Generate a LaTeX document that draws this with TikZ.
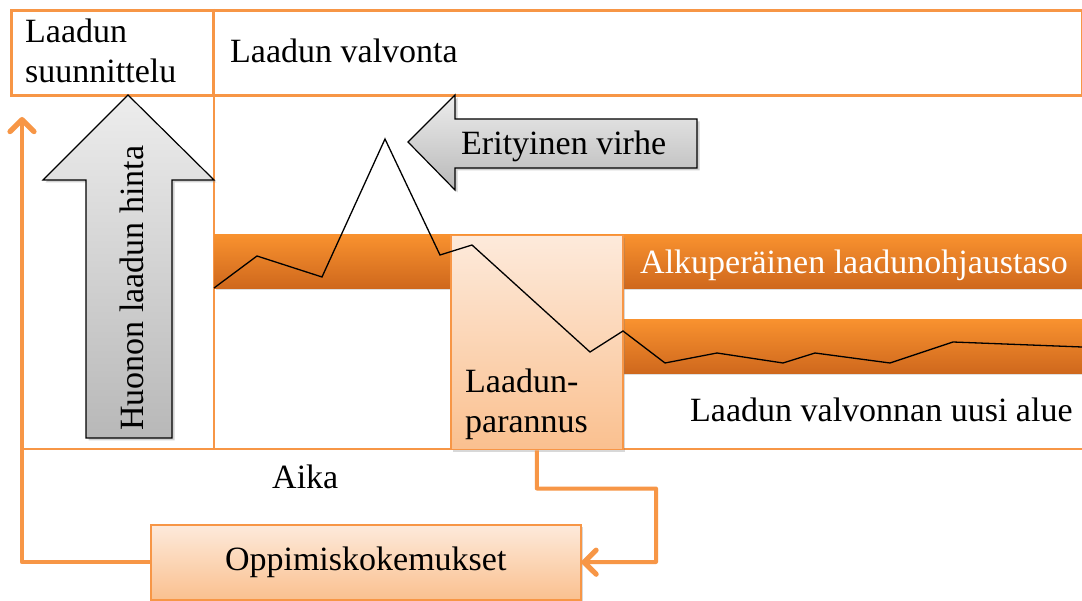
\documentclass[tikz,border=0pt]{standalone}
\usepackage{fontspec}
\setmainfont{Liberation Serif}
\usetikzlibrary{arrows.meta,shadows}
\definecolor{accent}{HTML}{F79646}
\definecolor{bandtop}{HTML}{F9922F}
\definecolor{bandbot}{HTML}{CF681D}
\definecolor{peachtop}{HTML}{FDEADB}
\definecolor{peachbot}{HTML}{FAC08F}
\definecolor{greytop}{HTML}{EDEDED}
\definecolor{greybot}{HTML}{B8B8B8}
\begin{document}
\begin{tikzpicture}[x=1pt,y=-1pt,
  font=\fontsize{34}{40}\selectfont,
  txt/.style={inner sep=0pt,anchor=base west},
  frame/.style={draw=accent,line width=3pt},
  rule/.style={draw=accent,line width=1.5pt},
  band/.style={inner sep=0pt,anchor=north west,draw=none,
    top color=bandtop,bottom color=bandbot,
    drop shadow={shadow xshift=1.5pt,shadow yshift=-2pt,opacity=0.25}},
  peachbox/.style={inner sep=0pt,anchor=north west,draw=accent,line width=1.5pt,
    top color=peachtop,bottom color=peachbot,
    drop shadow={shadow xshift=2pt,shadow yshift=-2pt,opacity=0.3}},
  greyarrow/.style={draw=black,line width=1.2pt,line join=miter,
    top color=greytop,bottom color=greybot,
    drop shadow={shadow xshift=2.5pt,shadow yshift=-2.5pt,opacity=0.35}},
  conn/.style={draw=accent,line width=4pt,line join=round},
  barb/.style={-{Straight Barb[length=12pt,width=24pt,line width=0pt 1.3,line cap=round,line join=round]}},
  curve/.style={draw=black,line width=1.3pt,line join=miter}]

\useasboundingbox (0,0) rectangle (1082,601);
\fill[white] (0,0) rectangle (1082,601);

% header row
\node[frame,inner sep=0pt,anchor=north west,minimum width=1071,minimum height=85] (header) at (10,9) {};
\draw[frame] (213,9) -- (213,94);
\node[txt] (plan1) at (25,43) {Laadun};
\node[txt] (plan2) at (25,83) {suunnittelu};
\node[txt] (control) at (230,63) {Laadun valvonta};

% chart frame
\draw[rule] (214,94) -- (214,449);
\draw[rule] (22,449) -- (1082,449);

% control bands
\node[band,minimum width=868,minimum height=54] (band1) at (214,234) {};
\node[band,minimum width=460,minimum height=54] (band2) at (622,319) {};
\node[txt,text=white] (bandlabel) at (640,274) {Alkuperäinen laadunohjaustaso};

% improvement box
\node[peachbox,minimum width=172,minimum height=214] (lp) at (450,235) {};
\node[txt] (lp1) at (465,393) {Laadun-};
\node[txt] (lp2) at (465,433) {parannus};

% measured quality curve
\draw[curve] (214,288) -- (257,256) -- (322,277) -- (385,139) -- (440,255)
  -- (472,245) -- (590,352) -- (623,331) -- (665,363) -- (717,353)
  -- (783,363) -- (815,353) -- (890,363) -- (953,342) -- (1082,347);

% cost of poor quality
\path[greyarrow] (128,95) -- (214,180) -- (172,180) -- (172,438)
  -- (86,438) -- (86,180) -- (43,180) -- cycle;
\node[inner sep=0pt,rotate=90,anchor=base west] (cost) at (143,431) {Huonon laadun hinta};

% sporadic fault
\path[greyarrow] (408,142) -- (455,95) -- (455,119) -- (697,119)
  -- (697,168) -- (455,168) -- (455,190) -- cycle;
\node[txt] (fault) at (461,155) {Erityinen virhe};

\node[txt] (newzone) at (690,422) {Laadun valvonnan uusi alue};
\node[txt] (time) at (272,489) {Aika};

% lessons learned and feedback loop
\node[peachbox,minimum width=430,minimum height=75] (ok) at (150,524) {};
\node (oktext) at (ok.center) {Oppimiskokemukset};
\coordinate (planin) at (22,117);

\draw[conn,barb] (lp.south) -- ++(0,38) -| (656,562) -- (ok.east);
\draw[conn,barb] (ok.west) -| (planin);
\end{tikzpicture}
\end{document}
